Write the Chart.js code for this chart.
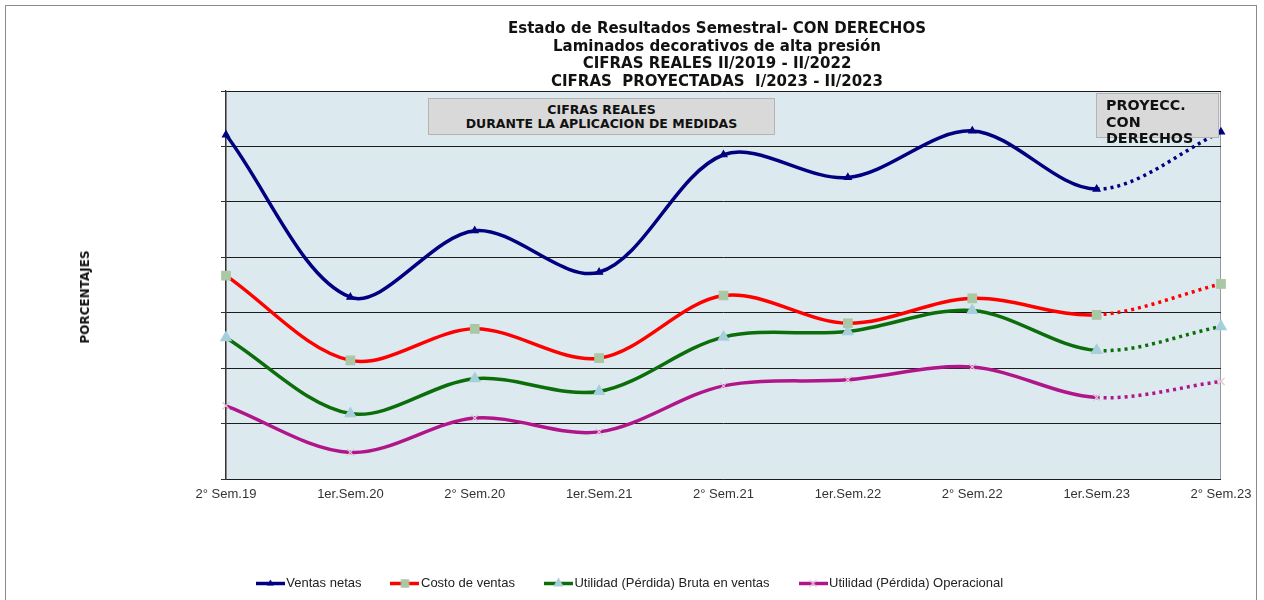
<!DOCTYPE html>
<html><head><meta charset="utf-8">
<script src="https://cdn.jsdelivr.net/npm/chart.js@4.4.0/dist/chart.umd.min.js"></script>
<style>
html,body{margin:0;padding:0;background:#fff;}
#wrap{position:relative;width:1264px;height:600px;overflow:hidden;background:#fff;}
#c{position:absolute;left:0;top:0;}
#frame{position:absolute;left:5px;top:5px;width:1252px;height:620px;border:1px solid #8a8a8a;box-sizing:border-box;pointer-events:none;}
#title{position:absolute;left:367px;width:700px;top:20px;text-align:center;font-family:"DejaVu Sans",sans-serif;font-weight:bold;font-size:15px;line-height:17.6px;color:#111;}
#ylab{position:absolute;left:85px;top:297px;transform:translate(-50%,-50%) rotate(-90deg);font-family:"DejaVu Sans",sans-serif;font-weight:bold;font-size:12px;color:#111;white-space:nowrap;}
.box{position:absolute;background:#d9d9d9;border:1px solid #b4b4b4;box-sizing:border-box;font-family:"DejaVu Sans",sans-serif;font-weight:bold;color:#111;}
#box1{left:428px;top:98px;width:347px;height:37px;text-align:center;font-size:12.5px;line-height:14px;padding-top:4px;}
#box2{left:1096px;top:93px;width:123px;height:45px;text-align:left;font-size:14.3px;line-height:16.5px;padding-left:9px;padding-top:3px;overflow:visible;white-space:nowrap;}
</style></head><body>
<div id="wrap">
<canvas id="c" width="1264" height="600"></canvas>
<div id="title">Estado de Resultados Semestral- CON DERECHOS<br>Laminados decorativos de alta presión<br>CIFRAS REALES II/2019 - II/2022<br>CIFRAS&nbsp; PROYECTADAS&nbsp; I/2023 - II/2023</div>
<div id="ylab">PORCENTAJES</div>
<div class="box" id="box1">CIFRAS REALES<br>DURANTE LA APLICACION DE MEDIDAS</div>
<div class="box" id="box2">PROYECC.<br>CON<br>DERECHOS</div>
<div id="frame"></div>
</div>
<script>
// ---- data ----
const categories = ["2° Sem.19","1er.Sem.20","2° Sem.20","1er.Sem.21","2° Sem.21","1er.Sem.22","2° Sem.22","1er.Sem.23","2° Sem.23"];
const ventasNetas = [62.1, 32.8, 44.8, 37.3, 58.5, 54.4, 62.8, 52.3, 62.6];
const costoVentas = [36.7, 21.4, 27.1, 21.8, 33.1, 28.1, 32.6, 29.6, 35.2];
const utilidadBruta = [25.5, 11.8, 18.1, 15.8, 25.6, 26.6, 30.4, 23.2, 27.5];
const utilidadOperacional = [13.2, 4.8, 11.0, 8.5, 16.8, 17.9, 20.2, 14.7, 17.6];
const seriesNames = ["Ventas netas","Costo de ventas","Utilidad (Pérdida) Bruta en ventas","Utilidad (Pérdida) Operacional"];
const yMin = 0, yMax = 70, yStep = 10;
const projectionStart = 7; // segments from 1er.Sem.23 onward are projected

// ---- styles ----
const lineColors = ["#000080","#ff0000","#0b6e0b","#b0168a"];
const markerColors = ["#000080","#a9c8a3","#a6cfdb","#e2c6d6"];
const markerStyles = ["triangle","rect","triangle","crossRot"];
const markerRadius = [4, 6, 6, 5];

function drawMarker(g, style, x, y, r, color){
  g.fillStyle = color; g.strokeStyle = color; g.lineWidth = 1.2;
  g.beginPath();
  if (style === 'triangle') {
    const w = r * Math.sqrt(3) / 2;
    g.moveTo(x, y - r); g.lineTo(x - w, y + r/2); g.lineTo(x + w, y + r/2); g.closePath(); g.fill();
  } else if (style === 'rect') {
    const s = r * Math.SQRT1_2;
    g.rect(x - s, y - s, 2*s, 2*s); g.fill();
  } else {
    const s = r * Math.SQRT1_2;
    g.moveTo(x - s, y - s); g.lineTo(x + s, y + s); g.moveTo(x + s, y - s); g.lineTo(x - s, y + s); g.stroke();
  }
}
function legendIcon(i){
  const c = document.createElement('canvas'); c.width = 29; c.height = 13;
  const g = c.getContext('2d');
  g.strokeStyle = lineColors[i]; g.lineWidth = 3.5;
  g.beginPath(); g.moveTo(0, 6.5); g.lineTo(29, 6.5); g.stroke();
  drawMarker(g, markerStyles[i], 14.5, 6.5, markerRadius[i], markerColors[i]);
  return c;
}
const icons = [0,1,2,3].map(legendIcon);

const seriesData = [ventasNetas, costoVentas, utilidadBruta, utilidadOperacional];
const datasets = seriesData.map((d, i) => ({
  label: seriesNames[i],
  data: d,
  borderColor: lineColors[i],
  backgroundColor: markerColors[i],
  borderWidth: 3.5,
  tension: 0.33,
  pointStyle: markerStyles[i],
  pointRadius: markerRadius[i],
  pointBackgroundColor: markerColors[i],
  pointBorderColor: markerColors[i],
  pointBorderWidth: 1.2,
  pointHoverRadius: markerRadius[i],
  segment: { borderDash: ctx => ctx.p0DataIndex >= projectionStart ? [3, 4] : undefined }
}));

const plotBg = {
  id: 'plotBg',
  beforeDraw(chart){
    const {ctx, chartArea: a} = chart;
    ctx.save();
    ctx.fillStyle = '#dce9ee';
    ctx.fillRect(a.left, a.top, a.right - a.left, a.bottom - a.top);
    ctx.strokeStyle = '#9a9a9a'; ctx.lineWidth = 1;
    ctx.strokeRect(a.left + 0.5, a.top + 0.5, a.right - a.left - 1, a.bottom - a.top);
    ctx.restore();
  }
};

new Chart(document.getElementById('c'), {
  type: 'line',
  data: { labels: categories, datasets },
  plugins: [plotBg],
  options: {
    responsive: false,
    animation: false,
    layout: { padding: { left: 43, top: 91, right: 43, bottom: 0 } },
    plugins: {
      title: { display: false },
      tooltip: { enabled: false },
      legend: {
        position: 'bottom',
        labels: {
          usePointStyle: true,
          pointStyleWidth: 19,
          padding: 34,
          color: '#222',
          font: { family: '"Liberation Sans", Arial, sans-serif', size: 13 },
          generateLabels: (chart) => chart.data.datasets.map((ds, i) => ({
            text: ds.label, pointStyle: icons[i], fillStyle: lineColors[i], strokeStyle: lineColors[i],
            lineWidth: 0, hidden: false, datasetIndex: i, fontColor: '#222'
          }))
        }
      }
    },
    scales: {
      x: {
        offset: false,
        grid: { display: false, drawTicks: false },
        border: { display: false },
        ticks: { color: '#333', padding: 8, maxRotation: 0, autoSkip: false, font: { family: '"Liberation Sans", Arial, sans-serif', size: 13 } },
        afterFit: (s) => { s.height = 64; }
      },
      y: {
        min: yMin, max: yMax,
        ticks: { display: false, stepSize: yStep },
        grid: { color: '#1c1c1c', lineWidth: 1, tickLength: 5, tickColor: '#333' },
        border: { display: true, color: '#333', width: 1.2 },
        afterFit: (s) => { s.width = 183; }
      }
    }
  }
});
</script>
</body></html>
